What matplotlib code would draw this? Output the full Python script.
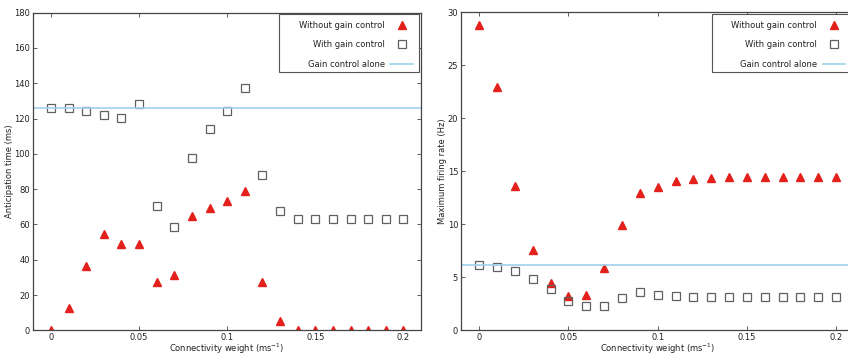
import matplotlib
matplotlib.use("Agg")
import matplotlib.pyplot as plt
from matplotlib.patches import Rectangle

weights = [0.00, 0.01, 0.02, 0.03, 0.04, 0.05, 0.06, 0.07, 0.08, 0.09, 0.10,
           0.11, 0.12, 0.13, 0.14, 0.15, 0.16, 0.17, 0.18, 0.19, 0.20]

antic_without = [0.0, 12.8, 36.5, 54.8, 49.1, 48.7, 27.2, 31.5, 65.0, 69.5, 73.3,
                 79.0, 27.4, 5.1, 0.0, 0.0, 0.0, 0.0, 0.0, 0.0, 0.0]
antic_with = [125.8, 125.8, 124.1, 122.0, 120.1, 128.3, 70.5, 58.6, 97.5, 114.3, 124.3,
              137.1, 88.2, 67.4, 63.1, 63.1, 63.1, 63.1, 63.1, 63.1, 63.1]
antic_alone = 126.2

rate_without = [28.84, 22.92, 13.65, 7.58, 4.43, 3.24, 3.30, 5.88, 9.94, 12.92, 13.55,
                14.12, 14.31, 14.40, 14.47, 14.47, 14.47, 14.47, 14.47, 14.47, 14.47]
rate_with = [6.16, 6.00, 5.60, 4.84, 3.87, 2.74, 2.30, 2.33, 3.08, 3.58, 3.33,
             3.21, 3.14, 3.14, 3.14, 3.14, 3.14, 3.14, 3.14, 3.14, 3.14]
rate_alone = 6.16

labels = ["Without gain control", "With gain control", "Gain control alone"]
xlabel = "Connectivity weight (ms$^{-1}$)"
xticks = [0, 0.05, 0.1, 0.15, 0.2]
xticklabels = ["0", "0.05", "0.1", "0.15", "0.2"]

RED = "#e3201b"
GRAY = "#606060"
BLUE = "#9fd0ee"
FS = 6

W, H = 848, 361
fig = plt.figure(figsize=(W / 100, H / 100), dpi=100)
ax1 = fig.add_axes([33.3/W, 1-330.3/H, 387.7/W, 317.6/H])
ax2 = fig.add_axes([461.3/W, 1-330.3/H, 392.7/W, 318.0/H])

def style(ax, ylim, yticks, ylabel, ylabel_x):
    ax.set_xlim(-0.01, 0.21)
    ax.set_ylim(*ylim)
    ax.set_xticks(xticks)
    ax.set_xticklabels(xticklabels)
    ax.set_yticks(yticks)
    ax.set_yticklabels([str(t) for t in yticks])
    ax.tick_params(direction="in", top=True, right=True, labelsize=FS,
                   length=3, width=0.6, color="#444444", labelcolor="#222222")
    ax.tick_params(axis="x", pad=2)
    ax.tick_params(axis="y", pad=2.3)
    for s in ax.spines.values():
        s.set_color("#444444")
        s.set_linewidth(0.9)
    ax.set_xlabel(xlabel, fontsize=FS, labelpad=-0.6, color="#222222")
    ax.set_ylabel(ylabel, fontsize=FS, color="#222222")
    ax.yaxis.set_label_coords(ylabel_x, 0.5)

for ax, y_wo, y_w, alone in [(ax1, antic_without, antic_with, antic_alone),
                             (ax2, rate_without, rate_with, rate_alone)]:
    ax.plot(weights, y_wo, linestyle="none", marker="^", markersize=5.5,
            color=RED, markeredgecolor=RED, label=labels[0])
    ax.plot(weights, y_w, linestyle="none", marker="s", markersize=6,
            markerfacecolor="none", markeredgecolor=GRAY, markeredgewidth=0.9,
            label=labels[1])
    ax.axhline(alone, color=BLUE, linewidth=1.2, label=labels[2])

style(ax1, (0, 180), [0, 20, 40, 60, 80, 100, 120, 140, 160, 180],
      "Anticipation time (ms)", (13.6 - 33.3) / 387.7)
style(ax2, (0, 30), [0, 5, 10, 15, 20, 25, 30],
      "Maximum firing rate (Hz)", (447.0 - 461.3) / 392.7)

# legends: content placed without frame, frame drawn as a rectangle
for ax, right_content, box_left, box_right in [(ax1, 413.0, 279.0, 418.5),
                                                (ax2, 845.0, 711.7, 851.0)]:
    leg = ax.legend(loc="upper right", bbox_to_anchor=(right_content / W, 1 - 20.5 / H),
                    bbox_transform=fig.transFigure, markerfirst=False, frameon=False,
                    fontsize=FS, borderaxespad=0, borderpad=0, labelspacing=1.3,
                    handlelength=2.7, handletextpad=0.7, numpoints=1)
    for t in leg.get_texts():
        t.set_color("#222222")
    rect = Rectangle((box_left / W, 1 - 72.0 / H), (box_right - box_left) / W, 58.0 / H,
                     transform=fig.transFigure, facecolor="white", edgecolor="#555555",
                     linewidth=0.8, zorder=4)
    ax.add_artist(rect)
    rect.set_clip_on(False)
    leg.set_zorder(5)

fig.savefig("out.png", dpi=100)
